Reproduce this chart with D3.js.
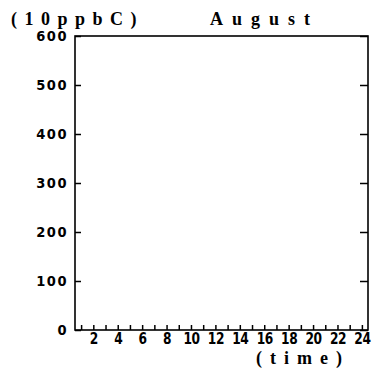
<!DOCTYPE html>
<html>
<head>
<meta charset="utf-8">
<title>August</title>
<script src="https://d3js.org/d3.v7.min.js"></script>
<style>
  body { margin: 0; background: #fff; }
  svg { display: block; }
  .tick text { font-family: "DejaVu Sans Condensed", "DejaVu Sans", sans-serif; font-weight: bold; fill: #000; }
  .title { font-family: "Liberation Serif", "DejaVu Serif", serif; font-weight: bold; font-size: 18px; }
</style>
</head>
<body>
<svg id="chart" width="372" height="368"></svg>
<script>
  // hours along x, concentration ticks (10 ppbC) along y
  let hours = d3.range(1, 25);
  let hourLabels = [2, 4, 6, 8, 10, 12, 14, 16, 18, 20, 22, 24];
  let yTicks = [0, 100, 200, 300, 400, 500, 600];
  let unitLabel = "(10ppbC)";
  let monthLabel = "August";
  let timeLabel = "(time)";

  let plotLeft = 75, plotRight = 368, plotTop = 36, plotBottom = 330;

  let svg = d3.select("#chart");

  let x = d3.scaleLinear().domain([0.5, 24.5]).range([plotLeft, plotRight]);
  let y = d3.scaleLinear().domain([0, 600]).range([plotBottom, plotTop]);

  // left axis, ticks point inward
  let yAxis = svg.append("g")
      .attr("transform", "translate(" + plotLeft + ",0)")
      .call(d3.axisLeft(y).tickValues(yTicks).tickSize(-6).tickPadding(7));
  yAxis.selectAll(".tick text")
      .attr("font-size", 14.5)
      .attr("letter-spacing", 1.5);

  // right axis, no labels
  svg.append("g")
      .attr("transform", "translate(" + plotRight + ",0)")
      .call(d3.axisRight(y).tickValues(yTicks).tickSize(-8).tickFormat(""));

  // bottom axis, one tick per hour
  let xAxis = svg.append("g")
      .attr("transform", "translate(0," + plotBottom + ")")
      .call(d3.axisBottom(x).tickValues(hours).tickSize(-5).tickPadding(3)
        .tickFormat(d => hourLabels.includes(d) ? d : ""));
  xAxis.selectAll(".tick text")
      .attr("font-size", 16)
      .attr("letter-spacing", -0.5)
      .attr("transform", "scale(0.85,1)");

  svg.selectAll(".domain").remove();
  svg.selectAll(".tick line").attr("stroke", "#000").attr("stroke-width", 1.5);

  // frame
  svg.append("rect")
      .attr("x", plotLeft).attr("y", plotTop)
      .attr("width", plotRight - plotLeft).attr("height", plotBottom - plotTop)
      .attr("fill", "none").attr("stroke", "#000").attr("stroke-width", 1.6);

  svg.append("text").attr("class", "title")
      .attr("x", 11).attr("y", 25)
      .attr("letter-spacing", 7.5)
      .text(unitLabel);

  svg.append("text").attr("class", "title")
      .attr("x", 210).attr("y", 25)
      .attr("letter-spacing", 9)
      .text(monthLabel);

  svg.append("text").attr("class", "title")
      .attr("x", 256).attr("y", 364)
      .attr("letter-spacing", 8)
      .text(timeLabel);
</script>
</body>
</html>
